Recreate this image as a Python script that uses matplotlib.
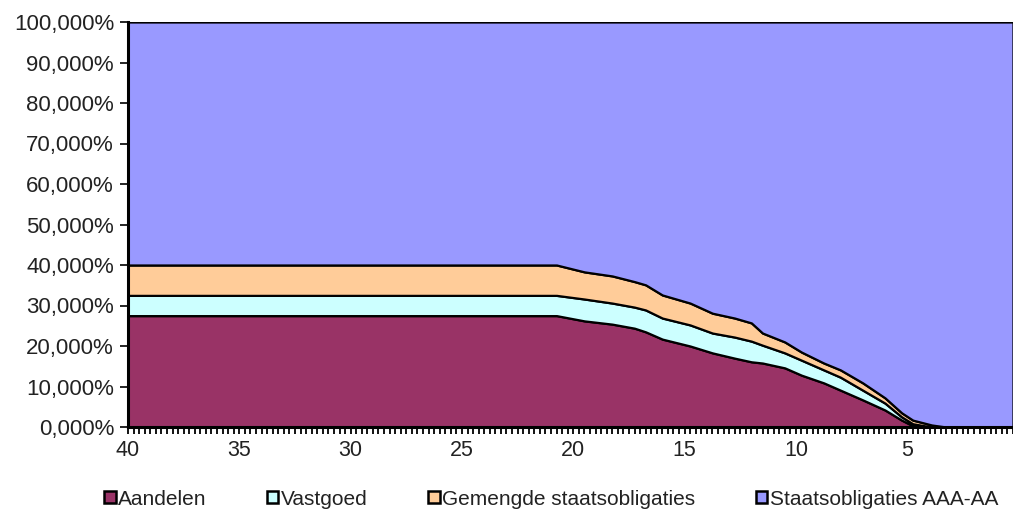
import numpy as np
import matplotlib
matplotlib.use('Agg')
import matplotlib.pyplot as plt
from matplotlib.patches import Patch

plt.rcParams['font.family'] = ['Liberation Sans', 'DejaVu Sans']

# ---------------------- data ----------------------
jaren = [40, 20.75, 19.5, 18.25, 17.25, 16.75, 16, 14.75, 13.75, 12.75, 12,
         11.5, 10.5, 9.75, 8.75, 8, 7, 6, 5.25, 4.75, 3.9, 3.25, 0.25]
aandelen = [27.5, 27.5, 26.2, 25.4, 24.4, 23.5, 21.7, 20.0, 18.3, 17.0, 16.1,
            15.8, 14.6, 12.8, 10.9, 9.1, 6.7, 4.2, 1.7, 0.3, 0, 0, 0]
vastgoed = [5.0, 5.0, 5.4, 5.2, 5.2, 5.4, 5.2, 5.2, 4.9, 5.2, 5.1,
            4.4, 3.7, 3.7, 3.2, 3.2, 2.4, 1.7, 0.8, 0.5, 0, 0, 0]
gemengde = [7.5, 7.5, 6.7, 6.7, 6.3, 6.2, 5.7, 5.4, 4.9, 4.7, 4.5,
            3.0, 2.7, 2.0, 1.7, 1.8, 1.8, 1.3, 1.0, 0.9, 0.5, 0, 0]
series_namen = ['Aandelen', 'Vastgoed', 'Gemengde staatsobligaties', 'Staatsobligaties AAA-AA']
kleuren = ['#993366', '#CCFFFF', '#FFCC99', '#9999FF']

staats = [100 - a - v - g for a, v, g in zip(aandelen, vastgoed, gemengde)]

# ---------------------- plot ----------------------
fig = plt.figure(figsize=(10.13, 5.17), dpi=100)
ax = fig.add_axes([128 / 1013, 1 - 427 / 517, 1 - 128 / 1013, (427 - 22) / 517])

ax.stackplot(jaren, aandelen, vastgoed, gemengde, staats,
             colors=kleuren, edgecolor='black', linewidth=1.6)

ax.set_xlim(40, 0.25)
ax.set_ylim(0, 100)

# y-as
yt = np.arange(0, 101, 10)
ax.set_yticks(yt)
ax.set_yticklabels([f'{v:.3f}'.replace('.', ',') + '%' for v in yt], fontsize=16, color='#222222')
ax.tick_params(axis='y', direction='out', length=6, width=1.2, pad=4)

# x-as
xt = [40, 35, 30, 25, 20, 15, 10, 5]
ax.set_xticks(xt)
ax.set_xticklabels([str(v) for v in xt], fontsize=15.5, color='#222222')
ax.set_xticks(np.arange(40, 0.2, -0.25), minor=True)
ax.tick_params(axis='x', which='both', direction='out', length=5, width=1.3, pad=4)

for s in ['top', 'right']:
    ax.spines[s].set_visible(False)
ax.spines['left'].set_linewidth(2.2)
ax.spines['bottom'].set_linewidth(2.2)

# legenda
handles = [Patch(facecolor=c, edgecolor='black', linewidth=1.8) for c in kleuren]
fig.legend(handles, series_namen, loc='lower center', bbox_to_anchor=(0.544, -0.02),
           ncol=4, frameon=False, fontsize=15, handlelength=0.55, handleheight=0.55,
           handletextpad=0.12, columnspacing=2.9, labelcolor='#222222')

fig.savefig('out.png', dpi=100)
